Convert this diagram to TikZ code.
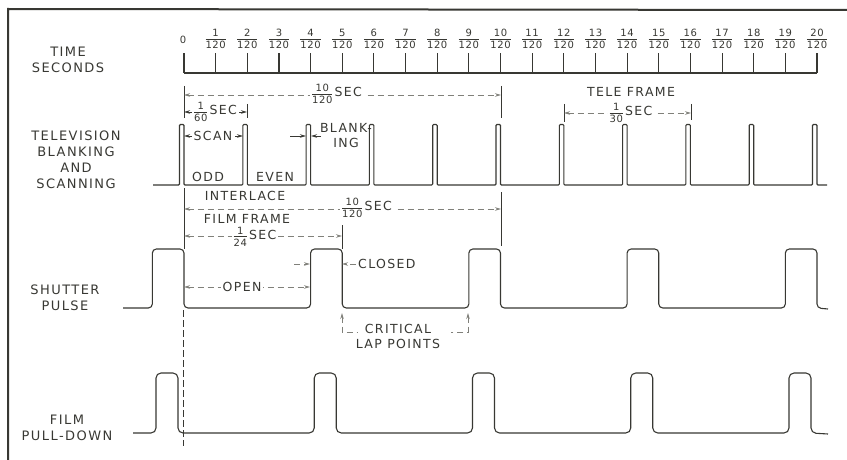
\documentclass[tikz,border=0pt]{standalone}
\usepackage{fontspec}
\setmainfont{DejaVu Sans}
\newfontfamily\lett[LetterSpace=11]{DejaVu Sans}
\newfontfamily\digs[LetterSpace=6]{DejaVu Sans}
\usetikzlibrary{arrows.meta}
\definecolor{ink}{rgb}{0.22,0.22,0.2}
\definecolor{dimc}{rgb}{0.5,0.5,0.48}
\newcommand\frc[2]{{\digs\fontsize{10}{10}\selectfont
  \setbox0\hbox{#1}\setbox2\hbox{#2}%
  \dimen0=\ifdim\wd0>\wd2 \wd0\else\wd2\fi
  $\vcenter{\hbox to\dimen0{\hss\box0\hss}\kern2.1pt\hrule height0.7pt\kern1.9pt\hbox to\dimen0{\hss\box2\hss}}$}}
\begin{document}
\begin{tikzpicture}[x=1pt,y=-1pt,
  ln/.style={draw=ink,line width=1.1pt},
  dimln/.style={draw=dimc,line width=0.9pt,dash pattern=on 6pt off 4pt},
  sdim/.style={draw=ink,line width=0.9pt},
  ext/.style={draw=ink,line width=0.9pt},
  lbl/.style={font=\lett\fontsize{13}{16}\selectfont,text=ink,align=center,inner sep=0pt},
  sml/.style={font=\lett\fontsize{12.5}{15}\selectfont,text=ink,align=center,inner sep=0pt},
  dl/.style={font=\lett\fontsize{12.5}{15}\selectfont,text=ink,fill=white,inner xsep=2pt,inner ysep=0pt},
  tl/.style={font=\digs\fontsize{10}{10}\selectfont,text=ink,inner sep=0pt},
  >={Stealth[length=6pt,width=3.5pt]}]
\useasboundingbox (0,0) rectangle (847,460);
% border
\draw[ink,line width=2pt] (8,460) -- (8,9) -- (847,10);
% row labels
\node[lbl] (ltime) at (68,60) {TIME\\SECONDS};
\node[lbl] (ltv) at (76,159.5) {TELEVISION\\BLANKING\\AND\\SCANNING};
\node[lbl] (lshut) at (65,297.5) {SHUTTER\\PULSE};
\node[lbl] (lfilm) at (67,428) {FILM\\PULL-DOWN};
% time axis
\foreach \k in {0,...,20} \coordinate (t\k) at ({184+31.65*\k},73);
\draw[ln] (t0) -- (t20);
\foreach \k in {0,...,20} \draw[ln] (t\k) -- ++(0,-20);
\node[tl] (n0) at (183,40) {0};
\foreach \k in {1,...,20} \path (t\k) ++(0,-34) node[tl] (n\k) {\frc{\k}{120}};
% television waveform
\draw[ln,rounded corners=1pt] (153,185)
  \foreach \k in {0,...,10}{ -- ({179.5+63.3*\k},185) -- ({179.5+63.3*\k},124.5) -- ({184+63.3*\k},124.5) -- ({184+63.3*\k},185)}
  -- (827,185);
% shutter waveform
\draw[ln,rounded corners=4pt] (123,308)
  \foreach \k in {0,...,4}{ -- ({152.35+158.25*\k},308) -- ({152.35+158.25*\k},249) -- ({184+158.25*\k},249) -- ({184+158.25*\k},308)}
  -- (828,309);
% film pull-down waveform
\draw[ln,rounded corners=5pt] (133,433)
  \foreach \k in {0,...,4}{ -- ({156+158.25*\k},433) -- ({156+158.25*\k},373) -- ({178+158.25*\k},373) -- ({178+158.25*\k},433)}
  -- (828,434);
% extension lines
\coordinate (e0a) at (184,86);  \coordinate (e0b) at (184,118);
\coordinate (e10a) at (501,86); \coordinate (e10b) at (501,118);
\coordinate (e2a) at (247,104); \coordinate (e2b) at (247,118);
\coordinate (e12a) at (564,104); \coordinate (e12b) at (564,122);
\coordinate (e16a) at (691,104); \coordinate (e16b) at (691,120);
\coordinate (f0a) at (184,188); \coordinate (f0b) at (184,249);
\coordinate (f10a) at (501,192); \coordinate (f10b) at (501,246);
\coordinate (f5a) at (342,225); \coordinate (f5b) at (342,249);
\coordinate (g0a) at (183,310); \coordinate (g0b) at (183,446);
\draw[ext] (e0a) -- (e0b);
\draw[ext] (e10a) -- (e10b);
\draw[ext] (e2a) -- (e2b);
\draw[ext] (e12a) -- (e12b);
\draw[ext] (e16a) -- (e16b);
\draw[ext] (f0a) -- (f0b);
\draw[ext] (f10a) -- (f10b);
\draw[ext] (f5a) -- (f5b);
\draw[ext,dash pattern=on 7pt off 3pt,line width=0.7pt] (g0a) -- (g0b);
% 10/120 sec (television)
\coordinate (a1) at (184,95); \coordinate (b1) at (501,95);
\draw[dimln,<->] (a1) -- (b1);
\node[dl] (d1) at (337,94) {\frc{10}{120}\,SEC};
% 1/60 sec
\coordinate (a2) at (184,112); \coordinate (b2) at (247,112);
\coordinate (a2i) at (192,112); \coordinate (b2i) at (239,112);
\draw[sdim,->] (a2i) -- (a2);
\draw[sdim,->] (b2i) -- (b2);
\node[dl,fill=none,inner sep=0pt] (d2) at (215.5,112) {\frc{1}{60}\,SEC};
% scan
\coordinate (a3) at (184,136); \coordinate (b3) at (243,136);
\coordinate (a3i) at (192,136); \coordinate (b3i) at (235,136);
\draw[sdim,->] (a3i) -- (a3);
\draw[sdim,->] (b3i) -- (b3);
\node[sml] (scan) at (213,136) {SCAN};
\node[sml] (odd) at (208,177) {ODD};
\node[sml] (even) at (275,177) {EVEN};
% blanking
\coordinate (a4) at (306,136); \coordinate (a4i) at (290,136);
\coordinate (b4) at (311,136); \coordinate (b4i) at (321,136);
\draw[sdim,->] (a4i) -- (a4);
\draw[sdim,->] (b4i) -- (b4);
\node[sml] (blank) at (346,135.5) {BLANK-\\ING};
% tele frame
\node[sml] (tele) at (631,92) {TELE FRAME};
\coordinate (a5) at (564,113); \coordinate (b5) at (691,113);
\draw[dimln,<->] (a5) -- (b5);
\node[dl] (d5) at (631,113) {\frc{1}{30}\,SEC};
% interlace
\node[sml] (inter) at (245,196) {INTERLACE};
\coordinate (a6) at (184,209); \coordinate (b6) at (501,209);
\draw[dimln,<->] (a6) -- (b6);
\node[dl] (d6) at (367,208) {\frc{10}{120}\,SEC};
% film frame
\node[sml] (ffr) at (247,219) {FILM FRAME};
\coordinate (a7) at (184,236); \coordinate (b7) at (342,236);
\draw[dimln,<->] (a7) -- (b7);
\node[dl] (d7) at (255,236.5) {\frc{1}{24}\,SEC};
% open
\coordinate (a8) at (184,287); \coordinate (b8) at (310,287);
\draw[dimln,<->] (a8) -- (b8);
\node[dl] (d8) at (242,287) {OPEN};
% closed
\coordinate (a9) at (342,264); \coordinate (a9i) at (356,264);
\coordinate (b9) at (310,264); \coordinate (b9i) at (294,264);
\draw[dimln,->] (a9i) -- (a9);
\draw[dimln,->] (b9i) -- (b9);
\node[sml,anchor=west] (closed) at (358,264) {CLOSED};
% critical lap points
\node[sml] (crit) at (398,336) {CRITICAL\\LAP POINTS};
\coordinate (c1) at (342,313); \coordinate (c1b) at (342,332); \coordinate (c1c) at (358,332);
\coordinate (c2) at (468,313); \coordinate (c2b) at (468,332); \coordinate (c2c) at (451,332);
\draw[dimln,<-] (c1) -- (c1b) -- (c1c);
\draw[dimln,<-] (c2) -- (c2b) -- (c2c);
\end{tikzpicture}
\end{document}
